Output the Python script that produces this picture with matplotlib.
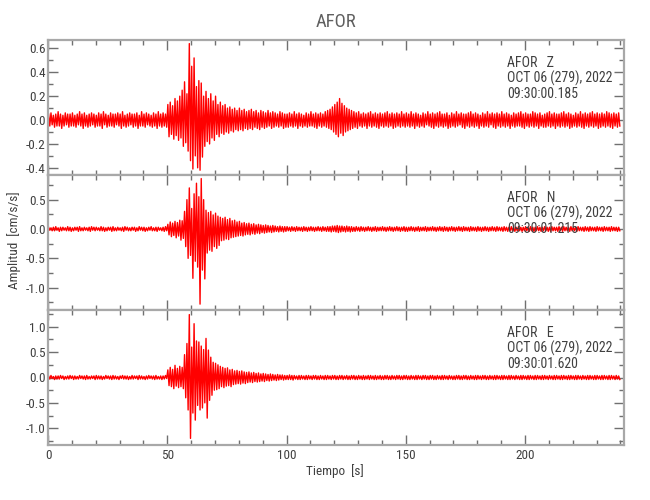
import numpy as np
import matplotlib
matplotlib.use("Agg")
import matplotlib.pyplot as plt
from matplotlib.ticker import MultipleLocator, FormatStrFormatter

plt.rcParams['font.family'] = ['Roboto Condensed', 'Roboto', 'DejaVu Sans']

# ---------------- data (per-second peak envelope) ----------------
# Time axis: seconds 0..239, one upper peak and one lower peak per second
z_up = [
    0.05, 0.06, 0.04, 0.05, 0.07, 0.05, 0.04, 0.06, 0.05, 0.05,
    0.06, 0.04, 0.05, 0.07, 0.05, 0.06, 0.04, 0.05, 0.06, 0.05,
    0.04, 0.06, 0.05, 0.07, 0.05, 0.04, 0.06, 0.05, 0.05, 0.06,
    0.05, 0.07, 0.04, 0.05, 0.06, 0.05, 0.05, 0.06, 0.04, 0.07,
    0.05, 0.06, 0.05, 0.04, 0.06, 0.05, 0.07, 0.05, 0.06, 0.05,
    0.13, 0.15, 0.12, 0.18, 0.16, 0.20, 0.25, 0.32, 0.22, 0.64,
    0.45, 0.52, 0.28, 0.33, 0.31, 0.20, 0.24, 0.18, 0.22, 0.16,
    0.20, 0.13, 0.15, 0.12, 0.13, 0.10, 0.11, 0.09, 0.10, 0.08,
    0.10, 0.08, 0.09, 0.07, 0.08, 0.09, 0.07, 0.08, 0.06, 0.08,
    0.07, 0.06, 0.08, 0.06, 0.07, 0.06, 0.05, 0.07, 0.06, 0.05,
    0.05, 0.06, 0.05, 0.07, 0.05, 0.06, 0.05, 0.04, 0.06, 0.05,
    0.07, 0.05, 0.06, 0.05, 0.06, 0.05, 0.07, 0.08, 0.09, 0.11,
    0.13, 0.15, 0.18, 0.14, 0.12, 0.10, 0.09, 0.08, 0.07, 0.06,
    0.07, 0.05, 0.06, 0.05, 0.06, 0.07, 0.05, 0.06, 0.05, 0.06,
    0.05, 0.06, 0.07, 0.05, 0.06, 0.05, 0.06, 0.05, 0.07, 0.05,
    0.06, 0.05, 0.07, 0.05, 0.06, 0.05, 0.04, 0.06, 0.05, 0.07,
    0.05, 0.06, 0.05, 0.06, 0.07, 0.05, 0.05, 0.06, 0.04, 0.06,
    0.05, 0.07, 0.05, 0.06, 0.05, 0.05, 0.06, 0.07, 0.05, 0.06,
    0.05, 0.04, 0.06, 0.05, 0.07, 0.05, 0.06, 0.05, 0.06, 0.05,
    0.07, 0.05, 0.06, 0.05, 0.04, 0.06, 0.05, 0.06, 0.07, 0.05,
    0.06, 0.05, 0.05, 0.07, 0.06, 0.05, 0.06, 0.04, 0.05, 0.06,
    0.07, 0.05, 0.06, 0.05, 0.05, 0.06, 0.07, 0.05, 0.06, 0.05,
    0.04, 0.06, 0.05, 0.07, 0.05, 0.06, 0.05, 0.06, 0.07, 0.05,
    0.06, 0.05, 0.06, 0.05, 0.07, 0.06, 0.05, 0.06, 0.05, 0.06,
]
z_lo = [
    -0.05, -0.04, -0.06, -0.05, -0.05, -0.07, -0.05, -0.04, -0.06, -0.05,
    -0.05, -0.06, -0.04, -0.05, -0.07, -0.05, -0.06, -0.05, -0.04, -0.06,
    -0.05, -0.05, -0.07, -0.04, -0.06, -0.05, -0.05, -0.06, -0.04, -0.05,
    -0.07, -0.05, -0.06, -0.05, -0.04, -0.06, -0.05, -0.07, -0.05, -0.05,
    -0.06, -0.04, -0.05, -0.06, -0.05, -0.07, -0.05, -0.06, -0.05, -0.06,
    -0.14, -0.12, -0.16, -0.13, -0.17, -0.15, -0.22, -0.19, -0.26, -0.34,
    -0.41, -0.30, -0.40, -0.42, -0.31, -0.22, -0.18, -0.20, -0.15, -0.17,
    -0.12, -0.14, -0.11, -0.12, -0.10, -0.11, -0.09, -0.10, -0.08, -0.09,
    -0.08, -0.09, -0.07, -0.08, -0.07, -0.08, -0.06, -0.07, -0.08, -0.06,
    -0.07, -0.06, -0.05, -0.07, -0.06, -0.05, -0.06, -0.05, -0.07, -0.06,
    -0.06, -0.05, -0.06, -0.05, -0.07, -0.05, -0.06, -0.05, -0.06, -0.05,
    -0.05, -0.06, -0.07, -0.05, -0.06, -0.05, -0.06, -0.07, -0.08, -0.10,
    -0.12, -0.14, -0.11, -0.13, -0.10, -0.09, -0.08, -0.07, -0.06, -0.07,
    -0.05, -0.06, -0.05, -0.07, -0.05, -0.06, -0.05, -0.06, -0.07, -0.05,
    -0.06, -0.05, -0.06, -0.05, -0.07, -0.06, -0.05, -0.06, -0.05, -0.06,
    -0.05, -0.06, -0.05, -0.07, -0.05, -0.06, -0.05, -0.06, -0.04, -0.05,
    -0.06, -0.07, -0.05, -0.06, -0.05, -0.06, -0.05, -0.07, -0.06, -0.05,
    -0.06, -0.05, -0.04, -0.06, -0.07, -0.05, -0.06, -0.05, -0.06, -0.05,
    -0.07, -0.05, -0.06, -0.05, -0.06, -0.04, -0.06, -0.07, -0.05, -0.06,
    -0.05, -0.06, -0.05, -0.07, -0.05, -0.06, -0.05, -0.05, -0.06, -0.07,
    -0.05, -0.06, -0.05, -0.06, -0.05, -0.07, -0.05, -0.06, -0.06, -0.05,
    -0.06, -0.05, -0.07, -0.05, -0.06, -0.05, -0.06, -0.05, -0.07, -0.06,
    -0.05, -0.06, -0.05, -0.06, -0.07, -0.05, -0.06, -0.05, -0.06, -0.05,
    -0.07, -0.06, -0.05, -0.06, -0.05, -0.06, -0.07, -0.05, -0.06, -0.05,
]
n_up = [
    0.03, 0.02, 0.03, 0.04, 0.02, 0.03, 0.03, 0.02, 0.04, 0.03,
    0.02, 0.03, 0.03, 0.04, 0.02, 0.03, 0.02, 0.03, 0.04, 0.03,
    0.03, 0.02, 0.04, 0.03, 0.02, 0.03, 0.03, 0.04, 0.02, 0.03,
    0.02, 0.03, 0.04, 0.03, 0.02, 0.03, 0.03, 0.02, 0.04, 0.03,
    0.03, 0.02, 0.03, 0.04, 0.02, 0.03, 0.03, 0.02, 0.03, 0.04,
    0.08, 0.12, 0.10, 0.13, 0.11, 0.15, 0.14, 0.30, 0.50, 0.70,
    0.35, 0.60, 0.78, 0.55, 0.86, 0.50, 0.32, 0.28, 0.30, 0.24,
    0.27, 0.22, 0.20, 0.18, 0.20, 0.16, 0.18, 0.14, 0.15, 0.12,
    0.13, 0.10, 0.11, 0.09, 0.10, 0.08, 0.09, 0.07, 0.08, 0.07,
    0.06, 0.07, 0.06, 0.05, 0.06, 0.05, 0.04, 0.05, 0.04, 0.04,
    0.04, 0.03, 0.04, 0.03, 0.04, 0.03, 0.03, 0.04, 0.03, 0.03,
    0.04, 0.03, 0.03, 0.04, 0.03, 0.04, 0.03, 0.04, 0.04, 0.05,
    0.05, 0.06, 0.05, 0.05, 0.04, 0.05, 0.04, 0.04, 0.03, 0.04,
    0.03, 0.04, 0.03, 0.03, 0.04, 0.03, 0.03, 0.04, 0.03, 0.03,
    0.04, 0.03, 0.03, 0.04, 0.03, 0.03, 0.04, 0.03, 0.03, 0.04,
    0.03, 0.03, 0.04, 0.03, 0.03, 0.04, 0.03, 0.03, 0.04, 0.03,
    0.03, 0.04, 0.03, 0.03, 0.04, 0.03, 0.04, 0.03, 0.03, 0.04,
    0.03, 0.03, 0.04, 0.03, 0.04, 0.03, 0.03, 0.04, 0.03, 0.03,
    0.04, 0.03, 0.03, 0.04, 0.03, 0.03, 0.04, 0.03, 0.04, 0.03,
    0.03, 0.04, 0.03, 0.03, 0.04, 0.03, 0.03, 0.04, 0.03, 0.03,
    0.04, 0.03, 0.04, 0.03, 0.03, 0.04, 0.03, 0.03, 0.04, 0.03,
    0.03, 0.04, 0.03, 0.03, 0.04, 0.03, 0.04, 0.03, 0.03, 0.04,
    0.03, 0.03, 0.04, 0.03, 0.03, 0.04, 0.03, 0.04, 0.03, 0.03,
    0.04, 0.03, 0.03, 0.04, 0.03, 0.03, 0.04, 0.03, 0.03, 0.03,
]
n_lo = [
    -0.02, -0.03, -0.03, -0.02, -0.04, -0.03, -0.02, -0.03, -0.03, -0.04,
    -0.03, -0.02, -0.04, -0.03, -0.03, -0.02, -0.03, -0.04, -0.02, -0.03,
    -0.02, -0.03, -0.03, -0.04, -0.03, -0.02, -0.04, -0.03, -0.03, -0.02,
    -0.03, -0.04, -0.02, -0.03, -0.03, -0.02, -0.04, -0.03, -0.02, -0.03,
    -0.04, -0.03, -0.02, -0.03, -0.03, -0.04, -0.02, -0.03, -0.04, -0.03,
    -0.10, -0.13, -0.11, -0.15, -0.12, -0.19, -0.16, -0.30, -0.50, -0.45,
    -0.84, -0.55, -0.65, -1.28, -0.70, -0.85, -0.41, -0.36, -0.38, -0.30,
    -0.33, -0.28, -0.20, -0.19, -0.17, -0.18, -0.15, -0.14, -0.13, -0.12,
    -0.11, -0.12, -0.10, -0.09, -0.10, -0.08, -0.09, -0.07, -0.08, -0.06,
    -0.07, -0.06, -0.05, -0.06, -0.05, -0.04, -0.05, -0.04, -0.05, -0.04,
    -0.03, -0.04, -0.03, -0.04, -0.03, -0.03, -0.04, -0.03, -0.04, -0.03,
    -0.03, -0.04, -0.03, -0.03, -0.04, -0.03, -0.04, -0.04, -0.05, -0.04,
    -0.05, -0.06, -0.05, -0.04, -0.05, -0.04, -0.05, -0.04, -0.04, -0.03,
    -0.04, -0.03, -0.04, -0.03, -0.03, -0.04, -0.03, -0.04, -0.03, -0.03,
    -0.03, -0.04, -0.03, -0.03, -0.04, -0.03, -0.03, -0.04, -0.03, -0.04,
    -0.04, -0.03, -0.03, -0.04, -0.03, -0.04, -0.03, -0.03, -0.04, -0.03,
    -0.03, -0.03, -0.04, -0.03, -0.03, -0.04, -0.03, -0.04, -0.03, -0.03,
    -0.04, -0.03, -0.03, -0.04, -0.03, -0.03, -0.04, -0.03, -0.03, -0.04,
    -0.03, -0.04, -0.03, -0.03, -0.04, -0.03, -0.03, -0.04, -0.03, -0.03,
    -0.04, -0.03, -0.04, -0.03, -0.03, -0.04, -0.03, -0.03, -0.04, -0.03,
    -0.03, -0.04, -0.03, -0.04, -0.03, -0.03, -0.04, -0.03, -0.03, -0.04,
    -0.04, -0.03, -0.03, -0.04, -0.03, -0.04, -0.03, -0.03, -0.04, -0.03,
    -0.03, -0.04, -0.03, -0.03, -0.04, -0.03, -0.04, -0.03, -0.03, -0.04,
    -0.03, -0.03, -0.04, -0.03, -0.03, -0.04, -0.03, -0.03, -0.04, -0.03,
]
e_up = [
    0.03, 0.04, 0.02, 0.03, 0.03, 0.04, 0.03, 0.02, 0.03, 0.04,
    0.03, 0.03, 0.02, 0.04, 0.03, 0.03, 0.04, 0.02, 0.03, 0.03,
    0.04, 0.03, 0.03, 0.02, 0.04, 0.03, 0.03, 0.04, 0.03, 0.02,
    0.03, 0.04, 0.03, 0.03, 0.02, 0.04, 0.03, 0.03, 0.04, 0.03,
    0.02, 0.03, 0.04, 0.03, 0.03, 0.04, 0.02, 0.03, 0.03, 0.04,
    0.15, 0.20, 0.16, 0.24, 0.18, 0.22, 0.20, 0.45, 0.67, 1.24,
    0.60, 1.06, 0.72, 0.70, 0.62, 0.55, 0.77, 0.54, 0.40, 0.30,
    0.28, 0.25, 0.22, 0.20, 0.18, 0.19, 0.15, 0.16, 0.13, 0.14,
    0.12, 0.13, 0.11, 0.10, 0.11, 0.09, 0.10, 0.08, 0.09, 0.07,
    0.08, 0.07, 0.06, 0.07, 0.06, 0.05, 0.06, 0.05, 0.05, 0.04,
    0.04, 0.05, 0.04, 0.04, 0.03, 0.04, 0.04, 0.03, 0.04, 0.04,
    0.03, 0.04, 0.04, 0.03, 0.04, 0.03, 0.04, 0.04, 0.03, 0.04,
    0.04, 0.03, 0.04, 0.04, 0.03, 0.04, 0.03, 0.04, 0.04, 0.03,
    0.04, 0.03, 0.04, 0.03, 0.04, 0.04, 0.03, 0.04, 0.03, 0.04,
    0.03, 0.04, 0.04, 0.03, 0.04, 0.03, 0.04, 0.04, 0.03, 0.04,
    0.04, 0.03, 0.04, 0.03, 0.04, 0.04, 0.03, 0.04, 0.04, 0.03,
    0.04, 0.04, 0.03, 0.04, 0.03, 0.04, 0.04, 0.03, 0.04, 0.03,
    0.03, 0.04, 0.04, 0.03, 0.04, 0.04, 0.03, 0.04, 0.03, 0.04,
    0.04, 0.03, 0.04, 0.04, 0.03, 0.04, 0.03, 0.04, 0.04, 0.03,
    0.04, 0.04, 0.03, 0.04, 0.04, 0.03, 0.04, 0.03, 0.04, 0.04,
    0.03, 0.04, 0.04, 0.03, 0.04, 0.04, 0.03, 0.04, 0.04, 0.03,
    0.04, 0.03, 0.04, 0.04, 0.03, 0.04, 0.04, 0.03, 0.04, 0.04,
    0.03, 0.04, 0.04, 0.03, 0.04, 0.03, 0.04, 0.04, 0.03, 0.04,
    0.04, 0.03, 0.04, 0.04, 0.03, 0.04, 0.04, 0.03, 0.04, 0.03,
]
e_lo = [
    -0.03, -0.02, -0.04, -0.03, -0.03, -0.02, -0.04, -0.03, -0.03, -0.02,
    -0.04, -0.03, -0.03, -0.02, -0.03, -0.04, -0.03, -0.03, -0.02, -0.04,
    -0.03, -0.03, -0.04, -0.03, -0.02, -0.03, -0.04, -0.03, -0.03, -0.04,
    -0.02, -0.03, -0.03, -0.04, -0.03, -0.03, -0.02, -0.04, -0.03, -0.03,
    -0.04, -0.03, -0.02, -0.03, -0.04, -0.03, -0.03, -0.04, -0.03, -0.02,
    -0.16, -0.18, -0.22, -0.17, -0.20, -0.18, -0.22, -0.40, -0.64, -1.20,
    -0.70, -0.84, -0.55, -0.64, -0.60, -0.50, -0.80, -0.45, -0.35, -0.25,
    -0.24, -0.22, -0.18, -0.20, -0.17, -0.16, -0.18, -0.14, -0.13, -0.12,
    -0.13, -0.11, -0.12, -0.10, -0.09, -0.10, -0.08, -0.09, -0.08, -0.07,
    -0.08, -0.06, -0.07, -0.06, -0.05, -0.06, -0.05, -0.04, -0.05, -0.04,
    -0.04, -0.04, -0.05, -0.03, -0.04, -0.04, -0.03, -0.04, -0.04, -0.03,
    -0.04, -0.03, -0.04, -0.04, -0.03, -0.04, -0.04, -0.03, -0.04, -0.03,
    -0.04, -0.04, -0.03, -0.04, -0.03, -0.04, -0.04, -0.03, -0.04, -0.04,
    -0.03, -0.04, -0.04, -0.03, -0.04, -0.03, -0.04, -0.04, -0.03, -0.04,
    -0.04, -0.03, -0.04, -0.04, -0.03, -0.04, -0.03, -0.04, -0.04, -0.03,
    -0.04, -0.04, -0.03, -0.04, -0.04, -0.03, -0.04, -0.03, -0.04, -0.04,
    -0.03, -0.04, -0.04, -0.03, -0.04, -0.04, -0.03, -0.04, -0.03, -0.04,
    -0.04, -0.03, -0.04, -0.04, -0.03, -0.04, -0.04, -0.03, -0.04, -0.04,
    -0.03, -0.04, -0.03, -0.04, -0.04, -0.03, -0.04, -0.04, -0.03, -0.04,
    -0.04, -0.03, -0.04, -0.04, -0.03, -0.04, -0.03, -0.04, -0.04, -0.03,
    -0.04, -0.04, -0.03, -0.04, -0.04, -0.03, -0.04, -0.04, -0.03, -0.04,
    -0.03, -0.04, -0.04, -0.03, -0.04, -0.04, -0.03, -0.04, -0.04, -0.03,
    -0.04, -0.04, -0.03, -0.04, -0.03, -0.04, -0.04, -0.03, -0.04, -0.04,
    -0.03, -0.04, -0.04, -0.03, -0.04, -0.04, -0.03, -0.04, -0.03, -0.04,
]

components = ['Z', 'N', 'E']
start_times = ['09:30:00.185', '09:30:01.215', '09:30:01.620']
date_label = 'OCT 06 (279), 2022'
station = 'AFOR'
ylims = [(-0.46, 0.67), (-1.38, 0.92), (-1.33, 1.33)]
yticks = [[-0.4, -0.2, 0.0, 0.2, 0.4, 0.6],
          [-1.0, -0.5, 0.0, 0.5],
          [-1.0, -0.5, 0.0, 0.5, 1.0]]
yminor = [0.1, 0.25, 0.25]
xticks = [0, 50, 100, 150, 200]
xlim = (0, 241.5)
envelopes = [(z_up, z_lo), (n_up, n_lo), (e_up, e_lo)]

# ---------------- figure ----------------
W, H = 650, 500
fig = plt.figure(figsize=(6.5, 5), dpi=100)
left_px, right_px = 48, 624
edges = [40, 175, 310, 445]
spine_col = '#a8a8a8'
tick_col = '#707070'
text_col = '#404040'

for k in range(3):
    top, bot = edges[k], edges[k + 1]
    ax = fig.add_axes([left_px / W, 1 - bot / H, (right_px - left_px) / W, (bot - top) / H])
    up, lo = envelopes[k]
    sec = np.arange(len(up))
    t = np.column_stack([sec + 0.25, sec + 0.75]).ravel()
    y = np.column_stack([up, lo]).ravel()
    ax.plot(t, y, color='#ff0000', lw=1.0, antialiased=True)
    ax.set_xlim(*xlim)
    ax.set_ylim(*ylims[k])
    ax.set_yticks(yticks[k])
    ax.yaxis.set_minor_locator(MultipleLocator(yminor[k]))
    ax.yaxis.set_major_formatter(FormatStrFormatter('%.1f'))
    ax.set_xticks(xticks)
    ax.xaxis.set_minor_locator(MultipleLocator(10))
    ax.tick_params(axis='both', which='both', direction='in', top=True, right=True,
                   color=tick_col, labelcolor=text_col, labelsize=9.5)
    ax.tick_params(axis='both', which='major', length=7, width=1)
    ax.tick_params(axis='both', which='minor', length=3.5, width=1)
    ax.tick_params(axis='y', pad=1.5)
    ax.tick_params(axis='x', pad=3)
    if k < 2:
        ax.tick_params(axis='x', labelbottom=False)
    for s in ax.spines.values():
        s.set_color(spine_col)
        s.set_linewidth(1.6)
    ax.text(0.797, 0.885, f'{station}   {components[k]}\n{date_label}\n{start_times[k]}',
            transform=ax.transAxes, ha='left', va='top', fontsize=10,
            color=text_col, linespacing=1.1)

fig.text(336 / W, 1 - 22 / H, station, ha='center', va='center', fontsize=13.5, color='#606060')
fig.text(14 / W, 1 - 240 / H, 'Amplitud  [cm/s/s]', ha='center', va='center',
         rotation=90, fontsize=9.5, color=text_col)
fig.text(335 / W, 1 - 471 / H, 'Tiempo  [s]', ha='center', va='center', fontsize=9.5, color=text_col)

fig.savefig('out.png', dpi=100)
